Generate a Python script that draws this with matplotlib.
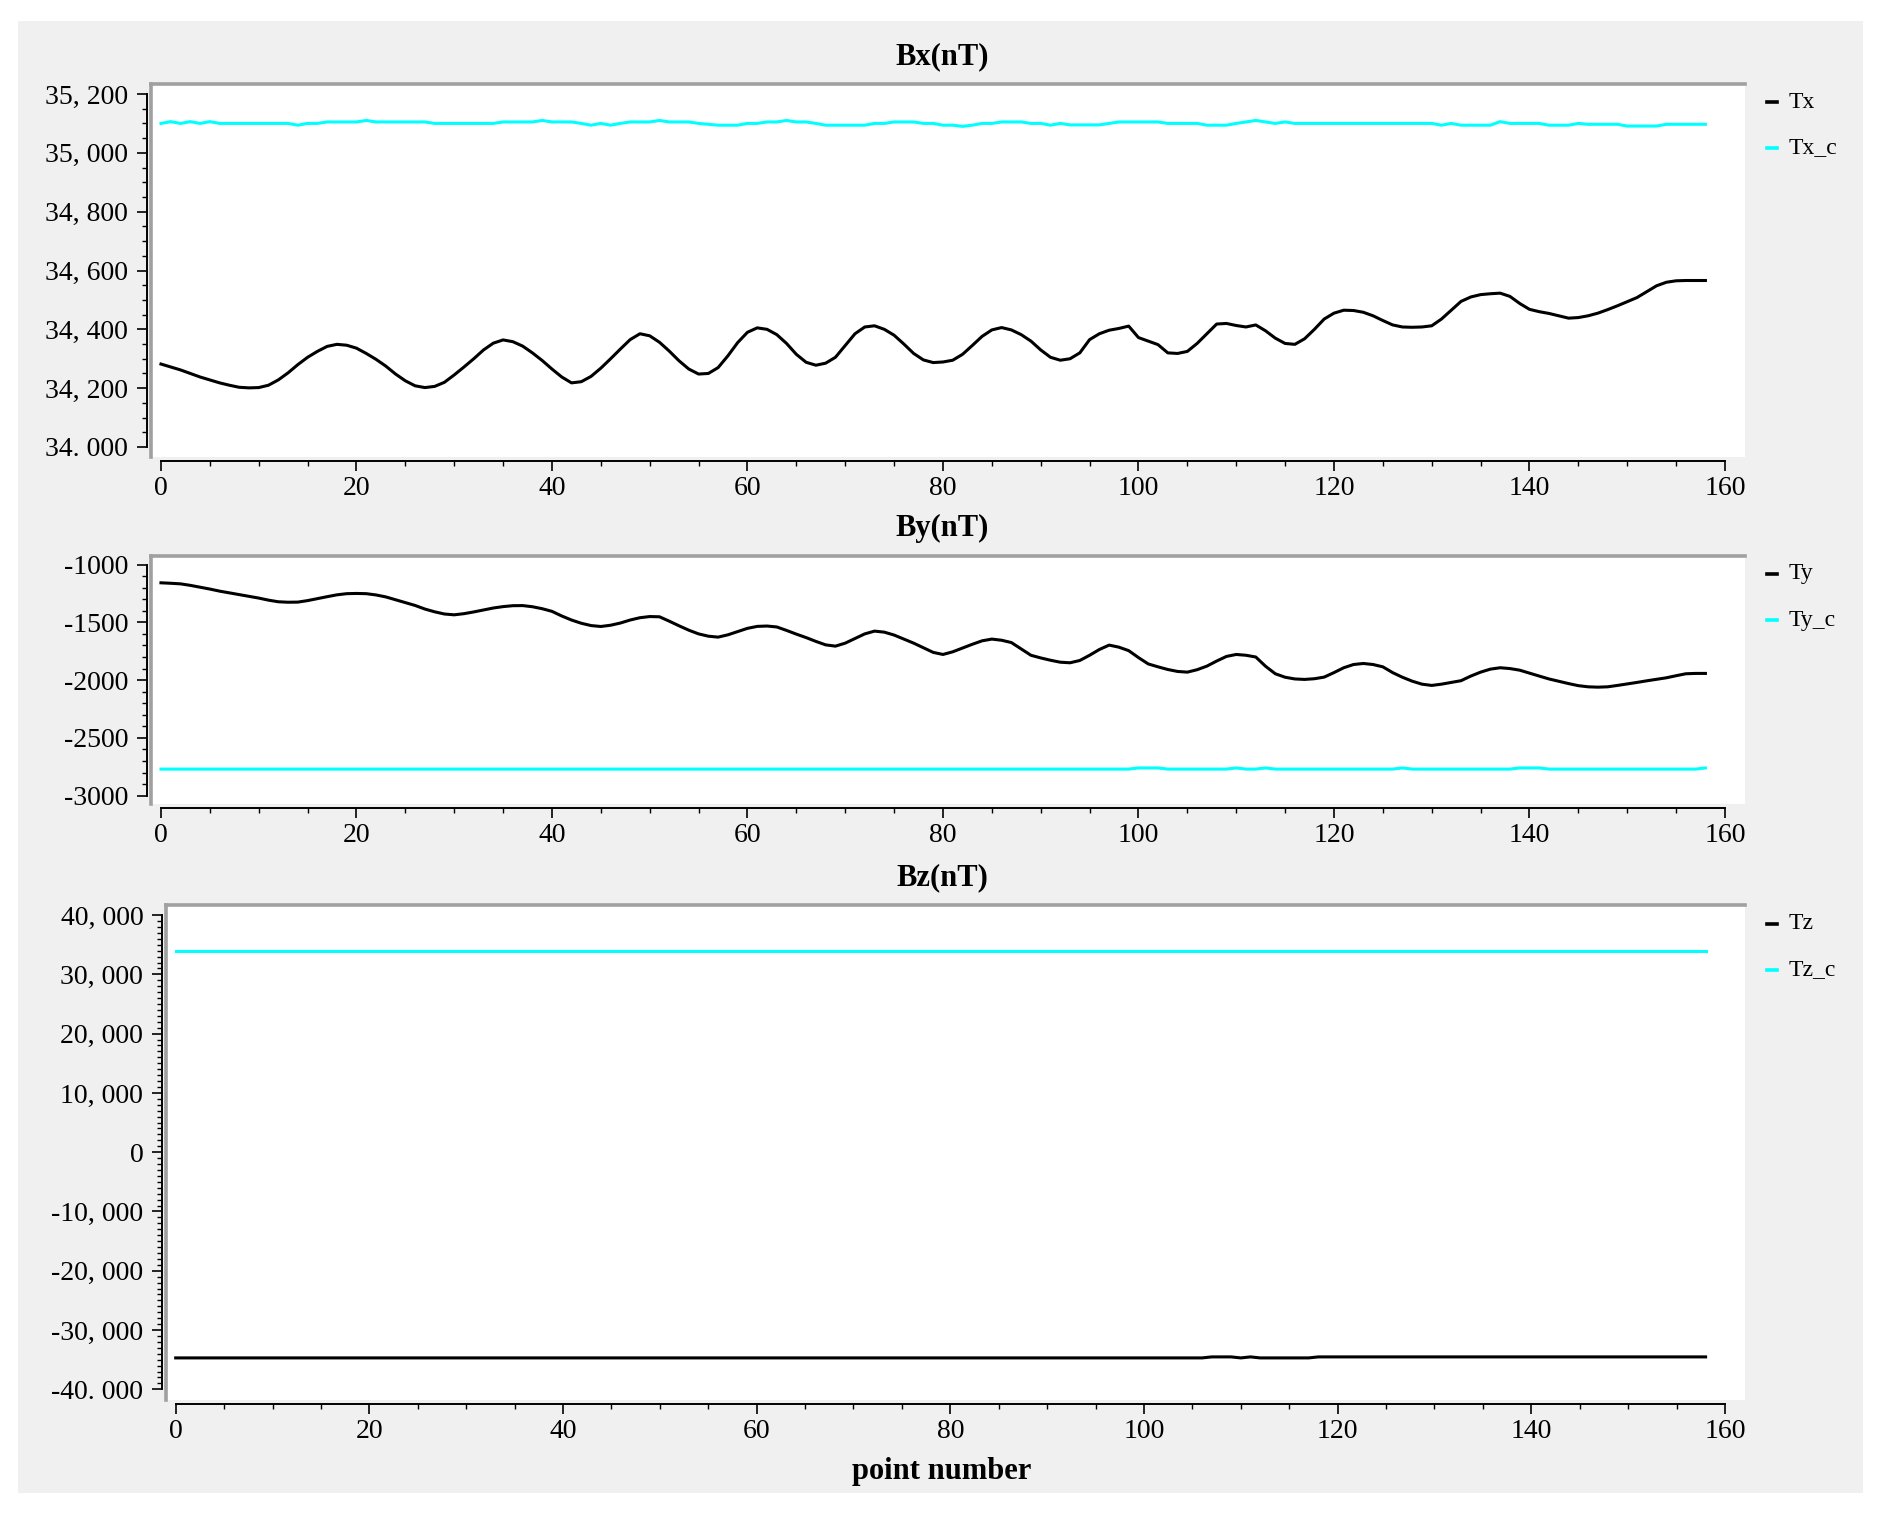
import numpy as np
import matplotlib
matplotlib.use('Agg')
import matplotlib.pyplot as plt
from matplotlib.patches import Rectangle
from matplotlib.lines import Line2D
from matplotlib.ticker import FixedLocator, FixedFormatter

# ---- data (point number -> nT) ----
point_number = list(range(159))

tx_vals = [34282, 34272, 34262, 34250, 34238, 34228, 34218, 34210, 34203, 34201,
           34202, 34210, 34228, 34252, 34280, 34305, 34325, 34342, 34349, 34346,
           34336, 34318, 34298, 34275, 34248, 34225, 34208, 34202, 34206, 34220,
           34245, 34272, 34300, 34330, 34353, 34364, 34358, 34343, 34320, 34294,
           34265, 34238, 34218, 34222, 34240, 34268, 34300, 34333, 34365, 34385,
           34378, 34356, 34326, 34293, 34265, 34248, 34250, 34270, 34310, 34355,
           34390, 34405, 34400, 34382, 34352, 34315, 34288, 34278, 34285, 34305,
           34345, 34385, 34408, 34412, 34400, 34380, 34350, 34318, 34296, 34287,
           34289, 34295, 34315, 34345, 34376, 34398, 34406, 34398, 34382, 34360,
           34330, 34305, 34295, 34300, 34320, 34365, 34385, 34397, 34403, 34411,
           34372, 34360, 34348, 34320, 34318, 34325, 34352, 34385, 34418, 34420,
           34413, 34408, 34415, 34395, 34370, 34352, 34349, 34368, 34400, 34435,
           34455, 34465, 34464, 34458, 34446, 34430, 34415, 34408, 34407, 34408,
           34412, 34435, 34465, 34495, 34510, 34518, 34521, 34523, 34512, 34488,
           34468, 34460, 34454, 34446, 34438, 34440, 34446, 34455, 34467, 34480,
           34494, 34508, 34528, 34548, 34560, 34565, 34566, 34566, 34566]

txc_pts = [0, 1, 2, 3, 4, 5, 6, 13, 14, 15, 16, 17, 20, 21, 22, 27, 28, 34, 35, 38,
           39, 40, 42, 43, 44, 45, 46, 47, 48, 50, 51, 52, 54, 55, 57, 59, 60, 61, 62, 63,
           64, 65, 66, 67, 68, 72, 73, 74, 75, 77, 78, 79, 80, 81, 82, 83, 84, 85, 86, 88,
           89, 90, 91, 92, 93, 96, 97, 98, 102, 103, 106, 107, 109, 110, 111, 112, 113, 114, 115, 116,
           130, 131, 132, 133, 136, 137, 138, 141, 142, 144, 145, 146, 149, 150, 153, 154, 158]
txc_vals = [35100, 35106, 35100, 35106, 35100, 35106, 35100, 35100, 35094, 35100, 35100, 35105, 35105, 35110, 35105, 35105, 35100, 35100, 35105, 35105,
            35110, 35105, 35105, 35100, 35094, 35100, 35094, 35100, 35105, 35105, 35110, 35105, 35105, 35100, 35094, 35094, 35100, 35100, 35105, 35105,
            35110, 35105, 35105, 35100, 35094, 35094, 35100, 35100, 35105, 35105, 35100, 35100, 35094, 35094, 35090, 35094, 35100, 35100, 35105, 35105,
            35100, 35100, 35094, 35100, 35095, 35095, 35100, 35105, 35105, 35100, 35100, 35094, 35094, 35100, 35105, 35110, 35105, 35100, 35105, 35100,
            35100, 35094, 35100, 35094, 35094, 35106, 35100, 35100, 35094, 35094, 35100, 35097, 35097, 35091, 35091, 35097, 35097]

ty_vals = [-1158, -1162, -1167, -1180, -1196, -1212, -1230, -1245, -1260, -1275,
           -1290, -1308, -1322, -1326, -1325, -1312, -1295, -1278, -1262, -1252,
           -1250, -1252, -1263, -1280, -1305, -1330, -1354, -1385, -1409, -1428,
           -1435, -1425, -1410, -1393, -1376, -1364, -1356, -1355, -1365, -1382,
           -1405, -1445, -1480, -1508, -1528, -1536, -1525, -1506, -1480, -1460,
           -1450, -1452, -1490, -1530, -1568, -1600, -1620, -1628, -1608, -1580,
           -1552, -1535, -1532, -1540, -1570, -1602, -1632, -1665, -1695, -1706,
           -1680, -1640, -1600, -1576, -1585, -1610, -1645, -1680, -1720, -1760,
           -1778, -1755, -1722, -1690, -1660, -1645, -1655, -1675, -1730, -1785,
           -1808, -1828, -1845, -1850, -1830, -1785, -1735, -1697, -1715, -1745,
           -1805, -1860, -1885, -1908, -1925, -1931, -1910, -1879, -1835, -1795,
           -1778, -1785, -1800, -1880, -1945, -1975, -1990, -1994, -1988, -1974,
           -1935, -1893, -1865, -1856, -1865, -1885, -1935, -1975, -2009, -2035,
           -2046, -2035, -2020, -2005, -1965, -1931, -1905, -1893, -1900, -1914,
           -1940, -1965, -1990, -2010, -2030, -2048, -2058, -2061, -2058, -2046,
           -2033, -2020, -2006, -1993, -1980, -1962, -1945, -1942, -1942]

tyc_pts = [0, 99, 100, 102, 103, 109, 110, 111, 112, 113, 114, 126, 127, 128, 138, 139, 141, 142, 157, 158]
tyc_vals = [-2770, -2770, -2760, -2760, -2770, -2770, -2760, -2770, -2770, -2760, -2770, -2770, -2760, -2770, -2770, -2760, -2760, -2770, -2770, -2760]

tz_pts = [0, 106, 107, 109, 110, 111, 112, 117, 118, 158]
tz_vals = [-34700, -34700, -34530, -34530, -34700, -34530, -34700, -34700, -34530, -34530]

tzc_pts = [0, 158]
tzc_vals = [33940, 33940]

x_ticks = [0, 20, 40, 60, 80, 100, 120, 140, 160]
x_ticklabels = ['0', '20', '40', '60', '80', '100', '120', '140', '160']

bx_ticks = [35200, 35000, 34800, 34600, 34400, 34200, 34000]
bx_ticklabels = ['35, 200', '35, 000', '34, 800', '34, 600', '34, 400', '34, 200', '34. 000']
by_ticks = [-1000, -1500, -2000, -2500, -3000]
by_ticklabels = ['-1000', '-1500', '-2000', '-2500', '-3000']
bz_ticks = [40000, 30000, 20000, 10000, 0, -10000, -20000, -30000, -40000]
bz_ticklabels = ['40, 000', '30, 000', '20, 000', '10, 000', '0', '-10, 000',
                 '-20, 000', '-30, 000', '-40. 000']

# ---- layout (pixel coordinates of the 1885x1517 image) ----
W, H = 1885, 1517
BG = '#f0f0f0'
FRAME = '#a0a0a0'
CYAN = '#00ffff'
SERIF = 'Liberation Serif'


def fx(px):
    return px / W


def fy(py):
    return 1 - py / H


def px2pt(px):
    return px * 0.72


panels = [
    dict(title='Bx(nT)', title_y=57, canvas=(151, 84, 1745, 457), ylim=(33966, 35234),
         xlim=(-1.02, 162.05), yticks=bx_ticks, ylabels=bx_ticklabels, yminor=50,
         names=('Tx', 'Tx_c'), data=((point_number, tx_vals), (txc_pts, txc_vals)),
         leg_y=(102, 148)),
    dict(title='By(nT)', title_y=528, canvas=(151, 556, 1745, 804), ylim=(-3072, -926),
         xlim=(-1.02, 162.05), yticks=by_ticks, ylabels=by_ticklabels, yminor=100,
         names=('Ty', 'Ty_c'), data=((point_number, ty_vals), (tyc_pts, tyc_vals)),
         leg_y=(574, 620)),
    dict(title='Bz(nT)', title_y=878, canvas=(166, 905, 1745, 1400), ylim=(-41800, 41700),
         xlim=(-1.0, 162.07), yticks=bz_ticks, ylabels=bz_ticklabels, yminor=1000,
         names=('Tz', 'Tz_c'), data=((tz_pts, tz_vals), (tzc_pts, tzc_vals)),
         leg_y=(924, 970)),
]

fig = plt.figure(figsize=(W / 100, H / 100), dpi=100, facecolor='white')
fig.patches.append(Rectangle((fx(18), fy(1493)), (1863 - 18) / W, (1493 - 21) / H,
                             transform=fig.transFigure, facecolor=BG,
                             edgecolor='none', zorder=-10))

for p in panels:
    L, T, R, B = p['canvas']
    ax = fig.add_axes([fx(L), fy(B), (R - L) / W, (B - T) / H])
    ax.set_facecolor('white')

    (x1, y1), (x2, y2) = p['data']
    ax.plot(x1, y1, color='black', lw=2.2, solid_joinstyle='round', zorder=3)
    ax.plot(x2, y2, color=CYAN, lw=2.2, zorder=2)

    ax.set_xlim(*p['xlim'])
    ax.set_ylim(*p['ylim'])

    # detached axes like the Qwt widget
    for side in ('top', 'right'):
        ax.spines[side].set_visible(False)
    ax.spines['left'].set_position(('outward', px2pt(4)))
    ax.spines['bottom'].set_position(('outward', px2pt(4)))
    ax.spines['left'].set_bounds(min(p['yticks']), max(p['yticks']))
    ax.spines['bottom'].set_bounds(0, 160)
    for side in ('left', 'bottom'):
        ax.spines[side].set_linewidth(1.4)
        ax.spines[side].set_color('black')

    # sunken canvas frame (left + top)
    ax.add_line(Line2D([0, 0], [0, 1], transform=ax.transAxes, color=FRAME,
                       lw=2.6, clip_on=False, zorder=5))
    ax.add_line(Line2D([0, 1], [1, 1], transform=ax.transAxes, color=FRAME,
                       lw=2.6, clip_on=False, zorder=5))

    ax.xaxis.set_major_locator(FixedLocator(x_ticks))
    ax.xaxis.set_major_formatter(FixedFormatter(x_ticklabels))
    ax.xaxis.set_minor_locator(FixedLocator(np.arange(0, 161, 5)))
    ax.yaxis.set_major_locator(FixedLocator(p['yticks']))
    ax.yaxis.set_major_formatter(FixedFormatter(p['ylabels']))
    lo, hi = min(p['yticks']), max(p['yticks'])
    ax.yaxis.set_minor_locator(FixedLocator(np.arange(lo, hi + 1, p['yminor'])))

    ax.tick_params(which='major', direction='out', length=7.5, width=1.2,
                   colors='black', labelsize=20)
    ax.tick_params(which='minor', direction='out', length=3.8, width=1.0, colors='black')
    ax.tick_params(axis='y', which='major', pad=6)
    ax.tick_params(axis='x', which='major', pad=3)
    for lab in ax.get_xticklabels() + ax.get_yticklabels():
        lab.set_fontfamily(SERIF)

    fig.text(fx(942), fy(p['title_y']), p['title'], ha='center', va='center',
             fontsize=22, fontweight='bold', family=SERIF)

    # legend on the right
    for name, color, ly in zip(p['names'], ('black', CYAN), p['leg_y']):
        fig.add_artist(Line2D([fx(1767), fx(1777)], [fy(ly), fy(ly)],
                              transform=fig.transFigure, color=color, lw=2.6))
        fig.text(fx(1789), fy(ly), name, ha='left', va='center', fontsize=17,
                 family=SERIF)

fig.text(fx(942), fy(1471), 'point number', ha='center', va='center',
         fontsize=22, fontweight='bold', family=SERIF)

fig.savefig('out.png', dpi=100, facecolor='white')
